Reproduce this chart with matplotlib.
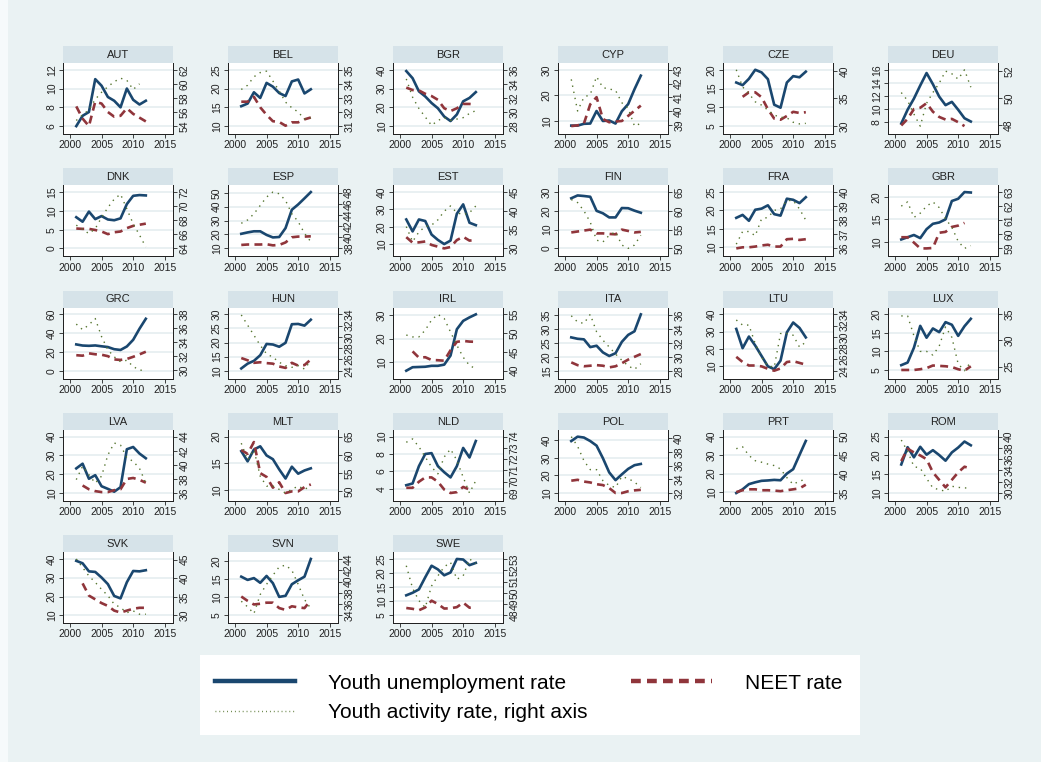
import numpy as np
import matplotlib
matplotlib.use("Agg")
import matplotlib.pyplot as plt
from matplotlib.lines import Line2D
from matplotlib.patches import Rectangle

plt.rcParams['font.family'] = ['Liberation Sans', 'DejaVu Sans']

nan = np.nan
years = list(range(2001, 2013))
countries = ['AUT', 'BEL', 'BGR', 'CYP', 'CZE', 'DEU',
             'DNK', 'ESP', 'EST', 'FIN', 'FRA', 'GBR',
             'GRC', 'HUN', 'IRL', 'ITA', 'LTU', 'LUX',
             'LVA', 'MLT', 'NLD', 'POL', 'PRT', 'ROM',
             'SVK', 'SVN', 'SWE']

# youth unemployment rate (left axis)
youth_unemp = {
    'AUT': [6.0, 7.1, 7.5, 11.0, 10.3, 9.1, 8.7, 8.0, 10.0, 8.8, 8.3, 8.7],
    'BEL': [15.3, 16.0, 19.0, 17.5, 21.5, 20.5, 18.8, 18.0, 21.9, 22.4, 18.7, 19.8],
    'BGR': [39.3, 35.5, 28.5, 25.8, 22.3, 19.5, 15.1, 12.7, 16.2, 23.2, 25.0, 28.1],
    'CYP': [8.2, 8.2, 8.9, 9.0, 13.9, 10.0, 10.2, 9.0, 13.8, 16.6, 22.4, 27.7],
    'CZE': [16.6, 15.9, 17.6, 20.0, 19.3, 17.5, 10.7, 9.9, 16.6, 18.3, 18.0, 19.5],
    'DEU': [7.8, 9.9, 11.6, 13.6, 15.5, 13.8, 11.9, 10.6, 11.1, 9.9, 8.6, 8.1],
    'DNK': [8.3, 7.1, 9.8, 7.8, 8.6, 7.7, 7.5, 8.0, 11.8, 14.0, 14.2, 14.1],
    'ESP': [20.5, 21.5, 22.3, 22.3, 19.7, 17.9, 18.2, 24.6, 37.8, 41.6, 46.0, 50.5],
    'EST': [24.2, 17.3, 24.2, 23.3, 15.5, 12.4, 10.0, 12.0, 27.5, 32.9, 22.3, 20.9],
    'FIN': [26.7, 28.2, 27.9, 27.5, 20.0, 18.7, 16.5, 16.5, 21.5, 21.4, 20.1, 19.0],
    'FRA': [18.0, 18.8, 17.2, 20.2, 20.5, 21.4, 19.0, 18.6, 23.2, 22.9, 22.0, 23.6],
    'GBR': [10.5, 11.0, 11.5, 10.8, 12.8, 14.0, 14.3, 15.0, 19.1, 19.6, 21.1, 21.0],
    'GRC': [28.0, 26.8, 26.5, 26.9, 26.0, 25.2, 22.9, 22.1, 25.8, 32.9, 44.7, 55.3],
    'HUN': [10.8, 12.5, 13.5, 15.5, 19.5, 19.3, 18.5, 19.9, 26.5, 26.6, 26.0, 28.1],
    'IRL': [6.2, 7.7, 7.8, 7.9, 8.3, 8.3, 8.8, 12.7, 24.0, 27.6, 29.1, 30.4],
    'ITA': [27.0, 26.5, 26.3, 23.5, 24.0, 21.6, 20.3, 21.3, 25.4, 27.9, 29.2, 35.3],
    'LTU': [31.6, 20.5, 27.2, 22.0, 16.0, 10.0, 8.4, 13.3, 29.6, 35.3, 32.2, 26.7],
    'LUX': [6.3, 7.0, 11.0, 16.9, 13.7, 16.2, 15.2, 17.9, 17.2, 14.2, 16.8, 18.8],
    'LVA': [23.1, 25.6, 17.6, 19.5, 13.6, 12.2, 10.7, 13.1, 33.3, 34.5, 31.0, 28.5],
    'MLT': [17.3, 15.4, 17.6, 18.2, 16.5, 15.8, 13.9, 12.2, 14.4, 13.1, 13.7, 14.1],
    'NLD': [4.4, 4.6, 6.6, 8.0, 8.1, 6.6, 5.9, 5.3, 6.6, 8.7, 7.6, 9.5],
    'POL': [39.5, 42.0, 41.5, 39.5, 36.9, 29.8, 21.7, 17.3, 20.6, 23.7, 25.8, 26.5],
    'PRT': [9.5, 11.5, 14.3, 15.3, 16.1, 16.3, 16.6, 16.4, 20.0, 22.4, 30.1, 37.7],
    'ROM': [17.6, 22.2, 19.5, 22.3, 20.2, 21.4, 20.1, 18.6, 20.8, 22.1, 23.7, 22.7],
    'SVK': [39.0, 37.7, 33.4, 33.1, 30.1, 26.6, 20.3, 19.0, 27.6, 33.6, 33.4, 34.0],
    'SVN': [15.7, 14.8, 15.3, 14.0, 15.9, 13.9, 10.1, 10.4, 13.6, 14.7, 15.7, 20.6],
    'SWE': [12.1, 13.0, 14.2, 18.5, 22.6, 21.3, 19.2, 20.2, 25.0, 24.8, 22.8, 23.6],
}

# NEET rate (left axis)
neet = {
    'AUT': [8.1, 6.8, 6.0, 8.6, 8.4, 7.5, 7.0, 7.1, 7.9, 7.3, 6.9, 6.5],
    'BEL': [16.5, 16.5, 17.8, 15.0, 13.0, 11.3, 11.1, 10.1, 11.0, 11.0, 11.8, 12.3],
    'BGR': [30.5, 29.2, 29.0, 27.2, 26.0, 24.0, 19.5, 18.0, 19.5, 21.8, 21.8, 21.5],
    'CYP': [8.0, 8.3, 9.0, 16.5, 19.3, 10.8, 9.5, 9.8, 10.0, 12.0, 14.0, 16.0],
    'CZE': [nan, 12.8, 14.0, 14.0, 12.7, 9.5, 7.0, 6.7, 7.7, 8.8, 8.5, 8.7],
    'DEU': [7.5, 8.5, 10.0, 10.2, 10.9, 9.6, 8.8, 8.4, 8.5, 8.0, 7.4, nan],
    'DNK': [5.3, 5.2, 5.2, 4.9, 4.5, 3.8, 4.3, 4.5, 5.4, 6.0, 6.3, 6.6],
    'ESP': [12.5, 12.8, 12.8, 12.8, 13.0, 12.2, 12.5, 14.3, 18.0, 18.5, 18.5, 18.7],
    'EST': [14.0, 10.8, 11.0, 11.5, 9.5, 8.5, 7.5, 8.3, 12.3, 14.2, 12.0, 12.4],
    'FIN': [8.5, 9.0, 9.5, 10.0, 8.0, 8.0, 7.7, 7.5, 10.0, 9.3, 8.5, 8.8],
    'FRA': [9.7, 10.0, 10.0, 10.2, 10.5, 10.7, 10.2, 10.2, 12.2, 12.3, 12.0, 12.2],
    'GBR': [11.0, 11.0, 9.8, 8.5, 8.5, 8.6, 12.0, 12.2, 13.3, 13.6, 14.2, nan],
    'GRC': [16.5, 16.0, 18.5, 17.5, 17.0, 15.5, 12.0, 11.5, 12.5, 14.8, 17.4, 20.2],
    'HUN': [14.5, 13.7, 12.8, 13.0, 12.7, 12.5, 11.5, 11.0, 12.8, 11.8, 12.0, 14.0],
    'IRL': [nan, 14.5, 11.8, 12.0, 10.8, 10.7, 10.5, 15.0, 18.6, 19.0, 18.7, 18.6],
    'ITA': [18.0, 17.0, 16.6, 16.8, 17.0, 16.8, 16.2, 16.6, 17.7, 19.0, 20.0, 21.0],
    'LTU': [15.5, 12.5, 10.5, 10.5, 10.0, 8.6, 7.5, 8.8, 12.5, 13.0, 12.0, 11.0],
    'LUX': [5.0, 5.0, 5.0, 5.2, 5.5, 6.2, 6.1, 6.0, 5.8, 5.2, 4.8, 6.0],
    'LVA': [nan, 14.0, 12.0, 11.0, 10.5, 10.5, 11.5, 12.0, 17.5, 18.0, 17.0, 15.5],
    'MLT': [17.5, 16.8, 19.0, 13.2, 12.5, 10.5, 11.5, 9.5, 9.8, 9.8, 10.6, 11.1],
    'NLD': [4.1, 4.1, 4.8, 5.3, 5.3, 4.8, 3.9, 3.5, 3.6, 4.2, 3.9, nan],
    'POL': [17.0, 17.5, 16.5, 16.0, 15.0, 14.5, 12.8, 10.0, 10.0, 11.0, 11.5, 11.8],
    'PRT': [10.0, 11.0, 11.5, 11.5, 11.0, 11.0, 10.8, 10.5, 11.0, 11.5, 12.0, 14.0],
    'ROM': [18.5, 21.8, 20.8, 20.0, 19.0, 15.5, 13.5, 11.5, 13.5, 15.5, 17.0, 16.5],
    'SVK': [nan, 27.0, 20.5, 18.5, 16.5, 15.0, 12.5, 11.5, 12.5, 13.5, 14.0, 14.0],
    'SVN': [10.2, 9.0, 8.0, 8.2, 8.5, 8.5, 7.0, 6.5, 7.5, 7.2, 7.0, 9.2],
    'SWE': [7.6, 7.3, 6.8, 7.8, 10.2, 9.0, 7.4, 7.5, 7.9, 9.5, 7.7, 7.7],
}

# youth activity rate (right axis)
activity = {
    'AUT': [54.8, 55.6, 56.3, 57.8, 58.8, 59.6, 60.3, 60.8, 60.5, 59.2, 60.0, nan],
    'BEL': [33.6, 33.9, 34.5, 34.8, 34.9, 34.2, 33.5, 32.7, 32.3, 32.0, 31.5, 31.6],
    'BGR': [34.7, 32.1, 30.5, 29.3, 28.1, 28.8, 29.2, 28.8, 29.0, 29.2, 29.8, 30.2],
    'CYP': [42.3, 40.0, 41.0, 41.2, 42.5, 41.7, 41.6, 41.5, 40.6, 40.2, 38.9, 39.1],
    'CZE': [40.2, 37.1, 35.9, 34.4, 33.8, 32.9, 32.0, 31.6, 31.5, 30.7, 30.4, 30.5],
    'DEU': [50.4, 49.8, 48.8, 47.9, 49.6, 50.4, 51.1, 52.0, 51.8, 51.4, 52.1, 50.8],
    'DNK': [67.3, 66.7, 66.1, 66.8, 68.4, 69.8, 71.0, 71.7, 69.6, 67.5, 65.9, 64.2],
    'ESP': [42.5, 43.1, 44.2, 45.7, 47.2, 48.1, 47.8, 46.6, 44.2, 42.8, 40.7, 39.2],
    'EST': [35.8, 31.8, 34.4, 35.8, 36.2, 37.6, 39.9, 41.3, 39.5, 39.0, 39.5, 41.3],
    'FIN': [63.0, 62.2, 60.0, 57.0, 52.2, 51.7, 53.5, 54.4, 50.9, 50.0, 50.9, 53.5],
    'FRA': [36.3, 37.2, 37.2, 36.9, 38.1, 38.2, 38.7, 38.8, 39.4, 39.4, 38.8, 38.0],
    'GBR': [62.0, 62.3, 61.2, 61.5, 62.0, 62.3, 61.9, 61.1, 60.5, 59.5, 59.0, 59.2],
    'GRC': [36.6, 35.8, 36.5, 37.4, 34.8, 32.9, 31.9, 31.2, 31.4, 30.5, 30.0, 29.9],
    'HUN': [33.9, 32.1, 30.3, 28.5, 27.0, 26.4, 25.5, 24.9, 24.6, 24.9, 24.3, 25.8],
    'IRL': [49.5, 49.0, 49.0, 50.8, 53.5, 55.0, 53.9, 50.3, 46.8, 43.6, 41.4, 40.5],
    'ITA': [35.9, 35.0, 34.8, 36.1, 33.6, 32.4, 31.4, 30.4, 29.5, 28.7, 28.2, 29.0],
    'LTU': [33.0, 32.1, 32.1, 28.8, 26.4, 24.9, 24.6, 30.6, 30.6, 30.3, 28.2, 29.1],
    'LUX': [34.7, 34.7, 30.9, 27.9, 27.9, 27.2, 28.9, 32.6, 30.6, 25.5, 24.2, 25.9],
    'LVA': [37.9, 39.8, 38.6, 37.4, 38.4, 41.4, 43.1, 42.8, 41.0, 40.5, 39.5, 37.4],
    'MLT': [63.2, 58.6, 61.4, 54.1, 51.4, 51.4, 50.5, 49.5, 50.5, 51.4, 50.5, 51.4],
    'NLD': [73.5, 73.8, 73.1, 72.2, 71.3, 70.7, 72.2, 72.9, 71.9, 70.4, 69.0, 70.1],
    'POL': [40.2, 38.8, 36.7, 35.4, 35.4, 33.8, 33.1, 32.8, 34.4, 34.1, 33.6, 32.8],
    'PRT': [46.8, 47.3, 45.0, 43.6, 43.2, 42.7, 42.3, 41.4, 39.1, 37.3, 38.2, 38.6],
    'ROM': [39.4, 37.4, 34.7, 34.4, 32.6, 30.9, 30.6, 30.3, 31.2, 31.0, 30.9, 30.9],
    'SVK': [45.2, 42.9, 40.6, 38.9, 37.0, 35.3, 33.0, 32.1, 30.7, 31.2, 30.3, 30.3],
    'SVN': [36.5, 35.5, 34.3, 37.7, 39.5, 41.1, 42.6, 42.9, 42.0, 39.5, 36.8, 35.2],
    'SWE': [52.4, 50.4, 49.3, 48.7, 50.6, 51.5, 52.3, 52.7, 51.2, 51.5, 53.0, 52.6],
}

left_ticks = {
    'AUT': [6, 8, 10, 12], 'BEL': [10, 15, 20, 25], 'BGR': [10, 20, 30, 40],
    'CYP': [10, 20, 30], 'CZE': [5, 10, 15, 20], 'DEU': [8, 10, 12, 14, 16],
    'DNK': [0, 5, 10, 15], 'ESP': [10, 20, 30, 40, 50], 'EST': [10, 20, 30, 40],
    'FIN': [0, 10, 20, 30], 'FRA': [10, 15, 20, 25], 'GBR': [10, 15, 20],
    'GRC': [0, 20, 40, 60], 'HUN': [10, 15, 20, 25, 30], 'IRL': [10, 20, 30],
    'ITA': [15, 20, 25, 30, 35], 'LTU': [10, 20, 30, 40], 'LUX': [5, 10, 15, 20],
    'LVA': [10, 20, 30, 40], 'MLT': [10, 15, 20], 'NLD': [4, 6, 8, 10],
    'POL': [10, 20, 30, 40], 'PRT': [10, 20, 30, 40], 'ROM': [10, 15, 20, 25],
    'SVK': [10, 20, 30, 40], 'SVN': [5, 10, 15, 20], 'SWE': [5, 10, 15, 20, 25],
}

right_ticks = {
    'AUT': [54, 56, 58, 60, 62], 'BEL': [31, 32, 33, 34, 35], 'BGR': [28, 30, 32, 34, 36],
    'CYP': [39, 40, 41, 42, 43], 'CZE': [30, 35, 40], 'DEU': [48, 50, 52],
    'DNK': [64, 66, 68, 70, 72], 'ESP': [38, 40, 42, 44, 46, 48], 'EST': [30, 35, 40, 45],
    'FIN': [50, 55, 60, 65], 'FRA': [36, 37, 38, 39, 40], 'GBR': [59, 60, 61, 62, 63],
    'GRC': [30, 32, 34, 36, 38], 'HUN': [24, 26, 28, 30, 32, 34], 'IRL': [40, 45, 50, 55],
    'ITA': [28, 30, 32, 34, 36], 'LTU': [24, 26, 28, 30, 32, 34], 'LUX': [25, 30, 35],
    'LVA': [36, 38, 40, 42, 44], 'MLT': [50, 55, 60, 65], 'NLD': [69, 70, 71, 72, 73, 74],
    'POL': [32, 34, 36, 38, 40], 'PRT': [35, 40, 45, 50], 'ROM': [30, 32, 34, 36, 38, 40],
    'SVK': [30, 35, 40, 45], 'SVN': [34, 36, 38, 40, 42, 44], 'SWE': [48, 49, 50, 51, 52, 53],
}

NAVY = '#1a476f'
MAROON = '#90353b'
GREEN = '#55752f'
BG = '#eaf2f3'
STRIP = '#d6e3e9'

W, H = 1041, 762
fig = plt.figure(figsize=(W / 100, H / 100), dpi=100, facecolor=BG)
fig.patches.append(Rectangle((0, 0), 8 / W, 1, transform=fig.transFigure,
                             facecolor='#f6fafb', edgecolor='none', zorder=-1))


def axis_range(ticks, *series, lo_pad=0.14, hi_pad=0.12):
    vals = np.concatenate([np.asarray(s, float) for s in series])
    lo = min(ticks[0], np.nanmin(vals))
    hi = max(ticks[-1], np.nanmax(vals))
    span = hi - lo
    return lo - lo_pad * span, hi + hi_pad * span


for i, c in enumerate(countries):
    r, k = divmod(i, 6)
    x0 = 63 + 165 * k
    top = 63 + 122.3 * r
    ph = 71

    ax = fig.add_axes([x0 / W, 1 - (top + ph) / H, 110 / W, ph / H])
    ax.set_facecolor('white')
    ax.set_axisbelow(True)
    ax.plot(years, youth_unemp[c], color=NAVY, lw=1.9, solid_joinstyle='round')
    ax.plot(years, neet[c], color=MAROON, lw=1.9, ls=(0, (3, 2)))
    ax.set_xlim(1998.9, 2016.3)
    ax.set_xticks([2000, 2005, 2010, 2015])
    ax.set_yticks(left_ticks[c])
    ax.set_ylim(*axis_range(left_ticks[c], youth_unemp[c], neet[c]))
    ax.grid(axis='y', color='#e3ecef', lw=1.1)

    ax2 = ax.twinx()
    ax2.plot(years, activity[c], color=GREEN, lw=1.0, ls=(0, (1, 3.5)))
    ax2.set_yticks(right_ticks[c])
    ax2.set_ylim(*axis_range(right_ticks[c], activity[c]))

    for a in (ax, ax2):
        a.spines['top'].set_visible(False)
        for s in ('left', 'right', 'bottom'):
            a.spines[s].set_linewidth(0.7)
            a.spines[s].set_color('#222222')
        a.tick_params(axis='both', labelsize=7.5, length=3, width=0.6, pad=1.5,
                      colors='#222222')
        a.tick_params(axis='y', labelrotation=90)
    for lab in ax.get_yticklabels() + ax2.get_yticklabels():
        lab.set_verticalalignment('center')

    sax = fig.add_axes([x0 / W, 1 - top / H, 110 / W, 17 / H])
    sax.set_facecolor(STRIP)
    sax.set_xticks([])
    sax.set_yticks([])
    for s in sax.spines.values():
        s.set_visible(False)
    sax.text(0.5, 0.48, c, ha='center', va='center', fontsize=8,
             color='#222222', transform=sax.transAxes)

# legend
fig.patches.append(Rectangle((200 / W, 1 - 735 / H), 660 / W, 80 / H,
                             transform=fig.transFigure, facecolor='white',
                             edgecolor='none', zorder=1))
handles = [Line2D([], [], color=NAVY, lw=3.2),
           Line2D([], [], color=GREEN, lw=1.0, ls=(0, (0.6, 2.2))),
           Line2D([], [], color=MAROON, lw=3.2, ls=(0, (2.2, 1.4)))]
labels = ['Youth unemployment rate', 'Youth activity rate, right axis', 'NEET rate']
leg = fig.legend(handles, labels, loc='upper left',
                 bbox_to_anchor=(200 / W, 1 - 659 / H), ncol=2, fontsize=15,
                 frameon=False, handlelength=3.85, handletextpad=1.6,
                 columnspacing=2.1, labelspacing=0.5, borderpad=0.2)
leg.set_zorder(2)

fig.savefig('out.png', dpi=100, facecolor=BG)
